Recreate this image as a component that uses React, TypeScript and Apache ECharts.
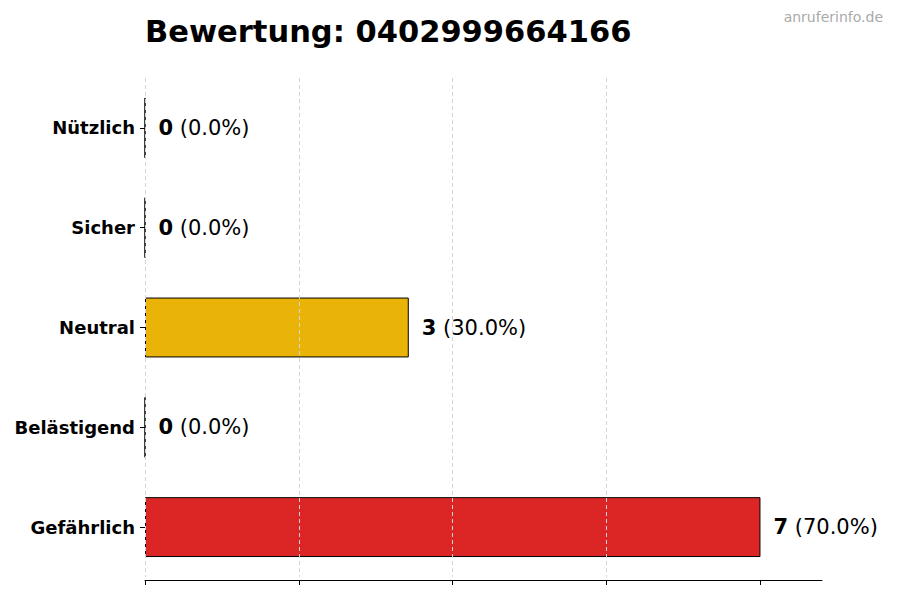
import React, { useEffect, useRef } from "react";
import * as echarts from "echarts";

const TITLE = "Bewertung: 0402999664166";
const WATERMARK = "anruferinfo.de";

const categories = ["Nützlich", "Sicher", "Neutral", "Belästigend", "Gefährlich"];
const counts = [0, 0, 3, 0, 7];
const barColors = ["#16a34a", "#2563eb", "#eab308", "#f97316", "#dc2626"];
const xTicks = [0, 1.75, 3.5, 5.25, 7];

const FONT = "DejaVu Sans";

const App: React.FC = () => {
  const chartRef = useRef<HTMLDivElement>(null);

  useEffect(() => {
    document.body.style.margin = "0";
    if (!chartRef.current) return;

    const chart = echarts.init(chartRef.current, null, { renderer: "svg" });
    const total = counts.reduce((a, b) => a + b, 0);

    const option = {
      animation: false,
      backgroundColor: "#ffffff",
      title: {
        text: TITLE,
        left: 145,
        top: 16,
        padding: 0,
        textStyle: {
          fontFamily: FONT,
          fontSize: 30.5,
          fontWeight: "bold",
          color: "#000",
        },
      },
      graphic: [
        {
          type: "text",
          right: 17,
          top: 10,
          style: {
            text: WATERMARK,
            fontFamily: FONT,
            fontSize: 14,
            fill: "#aaaaaa",
          },
        },
      ],
      grid: { left: 145, right: 78, top: 78, height: 499 },
      xAxis: {
        type: "value",
        min: 0,
        max: 7.7,
        interval: 1.75,
        offset: 3,
        z: 5,
        axisLine: { show: true, lineStyle: { color: "#000", width: 1 } },
        axisTick: {
          show: true,
          length: 5,
          customValues: xTicks,
          lineStyle: { color: "#000" },
        },
        axisLabel: { show: false },
        splitLine: {
          show: true,
          showMaxLine: false,
          lineStyle: { color: "#d4d4d4", type: [4, 3], width: 1 },
        },
      },
      yAxis: {
        type: "category",
        data: categories,
        inverse: true,
        axisLine: { show: false },
        axisTick: {
          show: true,
          alignWithLabel: true,
          length: 5,
          lineStyle: { color: "#000" },
        },
        axisLabel: {
          margin: 10,
          fontFamily: FONT,
          fontSize: 18,
          fontWeight: "bold",
          color: "#000",
        },
        splitLine: { show: false },
      },
      series: [
        {
          type: "bar",
          barWidth: "60%",
          data: counts.map((v, i) => ({
            value: v,
            itemStyle: { color: barColors[i] },
          })),
          itemStyle: { borderColor: "#000", borderWidth: 1 },
          label: {
            show: true,
            position: "right",
            distance: 13,
            formatter: (p: any) => {
              const pct = total ? ((p.value / total) * 100).toFixed(1) : "0.0";
              return `{b|${p.value}}{n| (${pct}%)}`;
            },
            rich: {
              b: { fontFamily: FONT, fontSize: 21, fontWeight: "bold", color: "#000" },
              n: { fontFamily: FONT, fontSize: 21, color: "#000" },
            },
          },
        },
      ],
    };

    chart.setOption(option);
    return () => chart.dispose();
  }, []);

  return <div ref={chartRef} style={{ width: 900, height: 600 }} />;
};

export default App;
